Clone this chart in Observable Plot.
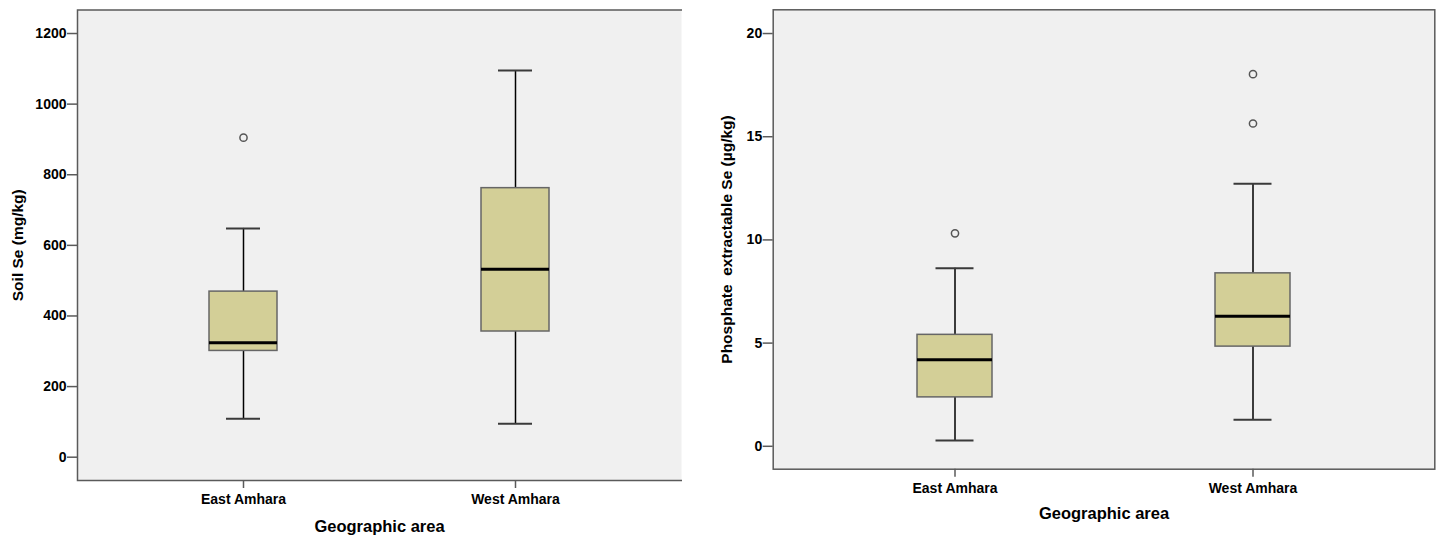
<!DOCTYPE html>
<html>
<head>
<meta charset="utf-8">
<script src="https://cdn.jsdelivr.net/npm/d3@7"></script>
<script src="https://cdn.jsdelivr.net/npm/@observablehq/plot@0.6"></script>
<style>
  html, body { margin: 0; padding: 0; background: white; }
  #wrap { display: flex; flex-direction: row; width: 1438px; height: 537px; }
  #wrap > * { flex: none; }
  .spacer { width: 18px; height: 537px; }
</style>
</head>
<body>
<div id="wrap"></div>
<script>
// ---- data ----
const areas = ["East Amhara", "West Amhara"];

const soilMin = [109, 95];
const soilQ1  = [301, 356];
const soilMed = [324, 532];
const soilQ3  = [469, 762];
const soilMax = [648, 1095];
const soilOutlierArea  = ["East Amhara"];
const soilOutlierValue = [905];
const soilTicks = [0, 200, 400, 600, 800, 1000, 1200];

const phosMin = [0.28, 1.29];
const phosQ1  = [2.37, 4.83];
const phosMed = [4.19, 6.30];
const phosQ3  = [5.40, 8.38];
const phosMax = [8.63, 12.72];
const phosOutlierArea  = ["East Amhara", "West Amhara", "West Amhara"];
const phosOutlierValue = [10.32, 15.64, 18.03];
const phosTicks = [0, 5, 10, 15, 20];

const xTitle = "Geographic area";
const soilTitle = "Soil Se (mg/kg)";
const phosTitle = "Phosphate  extractable Se (\u00b5g/kg)";

// ---- drawing ----
const FONT = "'Liberation Sans', Arial, sans-serif";

function boxChart(o) {
  const stats = areas.map((a, i) => ({
    area: a, min: o.min[i], q1: o.q1[i], med: o.med[i], q3: o.q3[i], max: o.max[i]
  }));
  const outliers = o.outArea.map((a, i) => ({area: a, value: o.outValue[i]}));
  const frameMarks = [
    Plot.frame({fill: "#f0f0f0", stroke: "none"}),
    Plot.frame({fill: "none", stroke: "#5a5a5a", strokeWidth: 1.5, insetRight: o.openRight ? -10 : 0})
  ];
  return Plot.plot({
    width: o.width,
    height: 537,
    marginLeft: o.ml,
    marginRight: o.mr,
    marginTop: o.mt,
    marginBottom: o.mb,
    style: {fontFamily: FONT, fontSize: "14px", fontWeight: "bold", color: "black", background: "white", overflow: o.openRight ? "hidden" : "visible"},
    x: {domain: areas, paddingInner: 0.75, paddingOuter: 0.485, label: null},
    y: {domain: o.domain, label: null},
    marks: [
      ...frameMarks,
      Plot.axisY({ticks: o.ticks, tickSize: 10, tickPadding: 1, stroke: "#5a5a5a", strokeWidth: 1.5, fill: "black", label: null, tickFormat: d => String(d)}),
      Plot.axisX({tickSize: 8, tickPadding: 6, stroke: "#5a5a5a", strokeWidth: 1.5, fill: "black", label: null}),
      // whiskers
      Plot.ruleX(stats, {x: "area", y1: "q3", y2: "max", stroke: "black", strokeWidth: 1.5}),
      Plot.ruleX(stats, {x: "area", y1: "min", y2: "q1", stroke: "black", strokeWidth: 1.5}),
      // caps
      Plot.tickY(stats, {x: "area", y: "max", stroke: "#3a3a3a", strokeWidth: 2, insetLeft: o.capInset, insetRight: o.capInset}),
      Plot.tickY(stats, {x: "area", y: "min", stroke: "#3a3a3a", strokeWidth: 2, insetLeft: o.capInset, insetRight: o.capInset}),
      // box
      Plot.barY(stats, {x: "area", y1: "q1", y2: "q3", fill: "#d3cf97", stroke: "#666666", strokeWidth: 1.5}),
      // median
      Plot.tickY(stats, {x: "area", y: "med", stroke: "black", strokeWidth: 3}),
      // outliers
      Plot.dot(outliers, {x: "area", y: "value", r: 3.6, stroke: "#555555", strokeWidth: 1.5, fill: "none"}),
      // titles
      Plot.text([o.yTitle], {frameAnchor: "left", dx: o.yTitleDx, rotate: -90, textAnchor: "middle", lineAnchor: "middle", fontSize: 15.5, fontWeight: "bold", fill: "black"}),
      Plot.text([xTitle], {frameAnchor: "bottom", dy: o.xTitleDy, textAnchor: "middle", lineAnchor: "middle", fontSize: 16.5, fontWeight: "bold", fill: "black"})
    ]
  });
}

const wrap = document.getElementById("wrap");
wrap.append(boxChart({
  width: 682, ml: 77, mr: 1, mt: 9.5, mb: 57,
  domain: [-66, 1266.6], ticks: soilTicks,
  min: soilMin, q1: soilQ1, med: soilMed, q3: soilQ3, max: soilMax,
  outArea: soilOutlierArea, outValue: soilOutlierValue,
  capInset: 17, yTitle: soilTitle, yTitleDx: -59, xTitleDy: 46, openRight: true
}));
const spacer = document.createElement("div");
spacer.className = "spacer";
wrap.append(spacer);
wrap.append(boxChart({
  width: 738, ml: 72.7, mr: 3.7, mt: 9.3, mb: 68.3,
  domain: [-1.11, 21.15], ticks: phosTicks,
  min: phosMin, q1: phosQ1, med: phosMed, q3: phosQ3, max: phosMax,
  outArea: phosOutlierArea, outValue: phosOutlierValue,
  capInset: 18.5, yTitle: phosTitle, yTitleDx: -46, xTitleDy: 45, openRight: false
}));
</script>
</body>
</html>
